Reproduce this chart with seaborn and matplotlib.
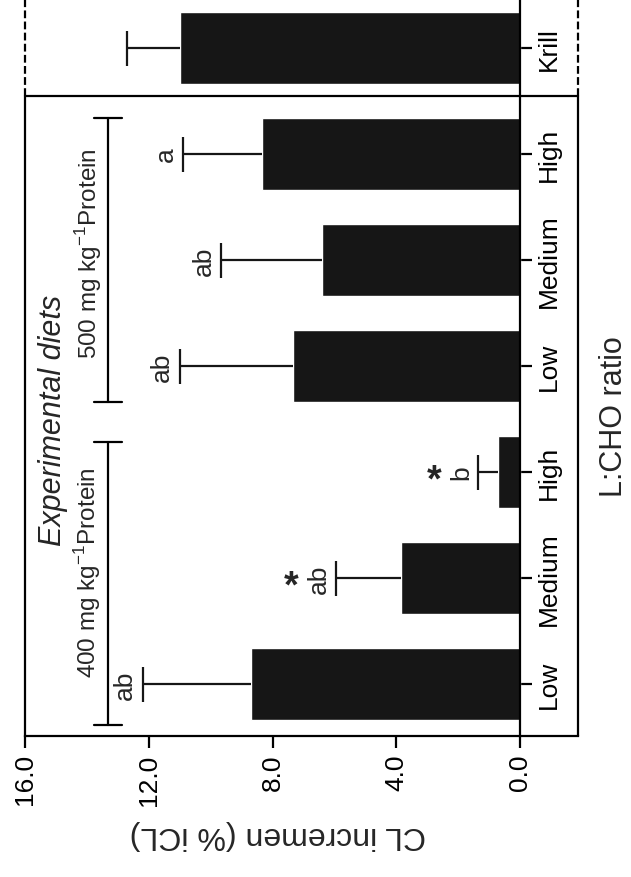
import numpy as np
import pandas as pd
import matplotlib
matplotlib.use("Agg")
import matplotlib.pyplot as plt
import seaborn as sns

sns.set_style("white")
plt.rcParams["font.family"] = ["Liberation Sans", "DejaVu Sans"]
plt.rcParams["mathtext.fontset"] = "custom"
plt.rcParams["mathtext.rm"] = "Liberation Sans"

# data
diets = ["400 Low", "400 Medium", "400 High", "500 Low", "500 Medium", "500 High", "Krill"]
tick_labels = ["Low", "Medium", "High", "Low", "Medium", "High", "Krill"]
means = [8.7, 3.85, 0.7, 7.35, 6.4, 8.35, 11.0]
errs = [3.5, 2.1, 0.65, 3.65, 3.25, 2.55, 1.7]
letters = ["ab", "ab", "b", "ab", "ab", "a", ""]
stars = ["", "*", "*", "", "", "", ""]
value_ticks = [0, 4, 8, 12, 16]

df = pd.DataFrame({"diet": diets, "mean": means})

W, H = 631, 878
fig = plt.figure(figsize=(W / 100, H / 100), dpi=100)
ax = fig.add_axes([25 / W, (H - 737) / H, (578 - 25) / W, 737 / H])

sns.barplot(data=df, x="mean", y="diet", order=diets, orient="h",
            color="#161616", saturation=1, width=0.67, errorbar=None, ax=ax)
pos = np.arange(len(diets))
eb = ax.errorbar(means, pos, xerr=[np.zeros(len(errs)), errs], fmt="none",
                 ecolor="#161616", elinewidth=1.6, capsize=12.6, capthick=1.6)
eb[1][0].set_visible(False)  # no cap at the bar end

# chart is drawn turned on its side: values grow to the left
ppu = (520 - 25) / 16
x_left, x_right = 16, -(578 - 520) / ppu
y_bot, y_top = -(737 - 685) / 106, 685 / 106
ax.set_xlim(x_left, x_right)
ax.set_ylim(y_bot, y_top)
ax.set_xlabel("")
ax.set_ylabel("")

for s in ["top", "left"]:
    ax.spines[s].set_visible(False)
ax.spines["right"].set_position(("data", 0))
ax.spines["right"].set_linewidth(1.6)
ax.spines["bottom"].set_linewidth(1.6)
ax.spines["right"].set_color("k")
ax.spines["bottom"].set_color("k")

ax.set_xticks(value_ticks)
ax.set_xticklabels([f"{v:.1f}" for v in value_ticks], rotation=90, fontsize=19)
ax.tick_params(axis="x", direction="out", length=8.5, width=1.6, pad=4, bottom=True, colors="k")
ax.yaxis.tick_right()
ax.set_yticks(pos)
ax.set_yticklabels(tick_labels, rotation=90, fontsize=19, va="center", ha="left")
ax.tick_params(axis="y", direction="out", length=8.5, width=1.6, pad=4, right=True, left=False, colors="k")

# boxes: solid around experimental diets, dashed around krill
sep = (685 - 97) / 106
line = dict(color="k", lw=1.6, clip_on=False)
ax.plot([x_left, x_right], [sep, sep], **line)
for xx in [x_left, x_right]:
    ax.plot([xx, xx], [y_bot, sep], **line)
    ax.plot([xx, xx], [sep, y_top], ls=(0, (3.5, 1.5)), **line)

# protein group brackets
x_br = (520 - 108) / ppu
half = 14 / ppu
for lo, hi in [(-0.39, 2.28), (2.665, 5.335)]:
    ax.plot([x_br, x_br], [lo, hi], **line)
    for yy in [lo, hi]:
        ax.plot([x_br + half, x_br - half], [yy, yy], **line)

# significance letters and stars
for i in range(len(diets)):
    end = means[i] + errs[i]
    if letters[i]:
        ax.annotate(letters[i], xy=(end, i), xytext=(-12.5, 0), textcoords="offset points",
                    rotation=90, ha="center", va="center", fontsize=19)
    if stars[i]:
        # asterisk sits high in its box, so nudge it down onto the bar centre
        ax.annotate(stars[i], xy=(end, i), xytext=(-32, -6.3), textcoords="offset points",
                    ha="center", va="center", fontsize=27, fontweight="bold")


def ftext(x, y, s, **kw):
    fig.text(x / W, 1 - y / H, s, ha="center", va="center", **kw)


ftext(53, 420, "Experimental diets", rotation=90, fontsize=22, style="italic")
ftext(89, 254, r"500 mg kg$^{\mathregular{-1}}$Protein", rotation=90, fontsize=17.5)
ftext(88, 573, r"400 mg kg$^{\mathregular{-1}}$Protein", rotation=90, fontsize=17.5)
ftext(278, 835, "CL incremen (% iCL)", rotation=180, fontsize=23)
ftext(614, 417, "L:CHO ratio", rotation=90, fontsize=22)

fig.savefig("out.png", dpi=100)
